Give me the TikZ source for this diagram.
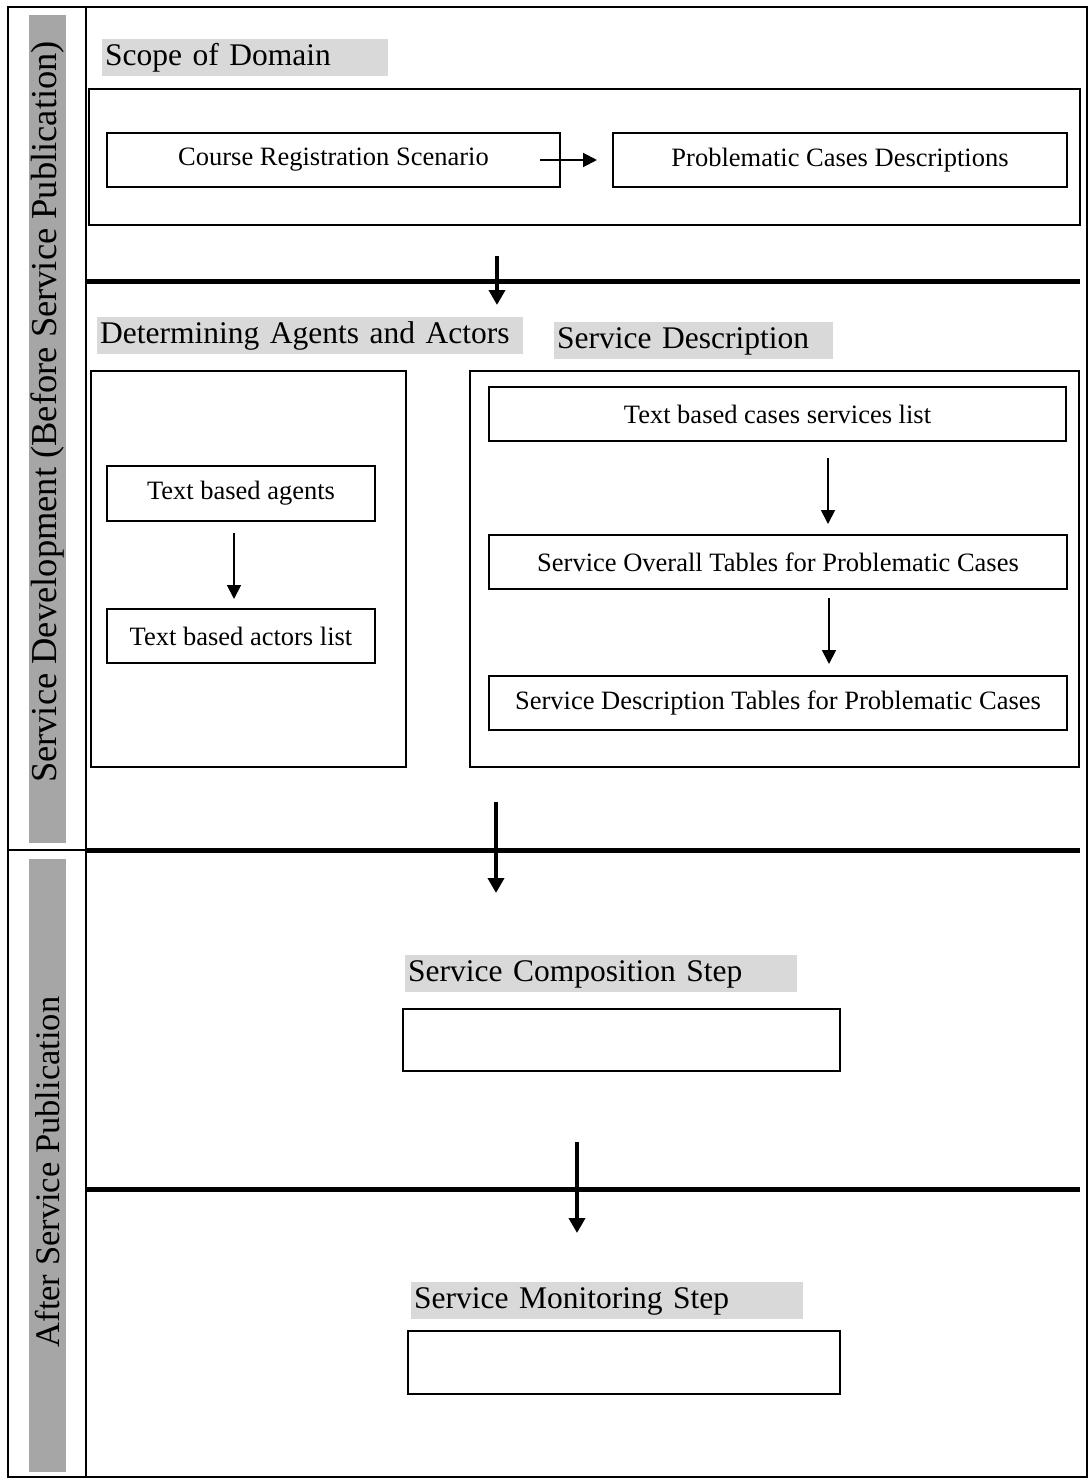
\documentclass[tikz,border=0pt]{standalone}
\usepackage{fontspec}
\setmainfont{Liberation Serif}
\usetikzlibrary{arrows.meta,calc}
\definecolor{bargrey}{HTML}{A6A6A6}
\definecolor{headgrey}{HTML}{D9D9D9}
\begin{document}
\begin{tikzpicture}[x=1pt,y=-1pt,
  frame/.style={draw=black,line width=2pt},
  box/.style={draw=black,line width=2pt,minimum width=#1,minimum height=54pt,
    inner sep=0pt,font=\fontsize{26.5}{30}\selectfont},
  blank/.style={draw=black,line width=2pt,minimum width=#1,minimum height=62pt,inner sep=0pt},
  head/.style={anchor=north west,fill=headgrey,text width=#1,inner xsep=3pt,inner ysep=0pt,
    minimum height=37pt,align=left,font=\fontsize{31.5}{36}\selectfont,
    text height=22pt,text depth=6pt},
  side/.style={rotate=90,inner sep=0pt},
  divider/.style={line width=5pt},
  bigarrow/.style={line width=4.5pt,-{Triangle[length=15pt,width=16pt]}},
  smallarrow/.style={line width=1.8pt,-{Triangle[length=14pt,width=14pt]}}]

\useasboundingbox (0,0) rectangle (1089,1482);
\fill[white] (0,0) rectangle (1089,1482);

% side column with its two grey bars
\fill[bargrey] (29,15) rectangle (66,843);
\fill[bargrey] (29,859) rectangle (66,1472);
\node[side,font=\fontsize{36.5}{42}\selectfont] (before) at (47.5,412)
  {Service Development (Before Service Publication)};
\node[side,font=\fontsize{34.5}{40}\selectfont] (after) at (47.5,1172)
  {After Service Publication};

% outer frame and column separators
\draw[frame] (8,7) rectangle (1087,1477);
\draw[frame] (86,7) -- (86,1477);
\draw[frame] (8,850) -- (86,850);

% phase dividers
\draw[divider] (86,281) -- (1080,281);
\draw[divider] (86,850) -- (1080,850);
\draw[divider] (86,1189) -- (1080,1189);

% scope of domain
\node[head=280pt] (scopehead) at (102,39) {Scope of Domain};
\draw[frame] (89,89) rectangle (1080,225);
\node[box=453pt] (crs) at (333.5,160) {Course Registration Scenario};
\node[box=454pt] (pcd) at (840,160) {Problematic Cases Descriptions};
\draw[line width=2pt,-{Triangle[length=14pt,width=14pt]}]
  ([xshift=-21pt]crs.east) -- ([xshift=-15pt]pcd.west);

% transition into the description phase
\coordinate (a1s) at (497,256);
\coordinate (a1e) at (497,305);
\draw[bigarrow] (a1s) -- (a1e);

% agents and actors
\node[head=420pt] (agenthead) at (97,317) {Determining Agents and Actors};
\draw[frame] (91,371) rectangle (406,767);
\node[box=268pt,minimum height=55pt] (agents) at (241,493.5) {Text based agents};
\node[box=268pt] (actors) at (241,636) {Text based actors list};
\draw[smallarrow] ($(agents.south)+(-7,11)$) -- ($(actors.north)+(-7,-9)$);

% service description
\node[head=273pt] (deschead) at (554,322) {Service Description};
\draw[frame] (470,371) rectangle (1079,767);
\node[box=577pt] (services) at (777.5,414) {Text based cases services list};
\node[box=578pt] (overall) at (778,562) {Service Overall Tables for Problematic Cases};
\node[box=578pt] (tables) at (778,703) {Service Description Tables for Problematic Cases};
\draw[smallarrow] ($(services.south)+(50.5,16)$) -- ($(overall.north)+(50,-10)$);
\draw[smallarrow] ($(overall.south)+(51,8)$) -- ($(tables.north)+(51,-11)$);

% transition into the composition phase
\coordinate (a2s) at (496,802);
\coordinate (a2e) at (496,893);
\draw[bigarrow] (a2s) -- (a2e);

% composition
\node[head=386pt] (comphead) at (405,955) {Service Composition Step};
\node[blank=437pt] (comp) at (621.5,1040) {};

% transition into the monitoring phase
\coordinate (a3s) at (577,1142);
\coordinate (a3e) at (577,1233);
\draw[bigarrow] (a3s) -- (a3e);

% monitoring
\node[head=386pt] (monhead) at (411,1282) {Service Monitoring Step};
\node[blank=432pt,minimum height=63pt] (mon) at (624,1362.5) {};
\end{tikzpicture}
\end{document}
